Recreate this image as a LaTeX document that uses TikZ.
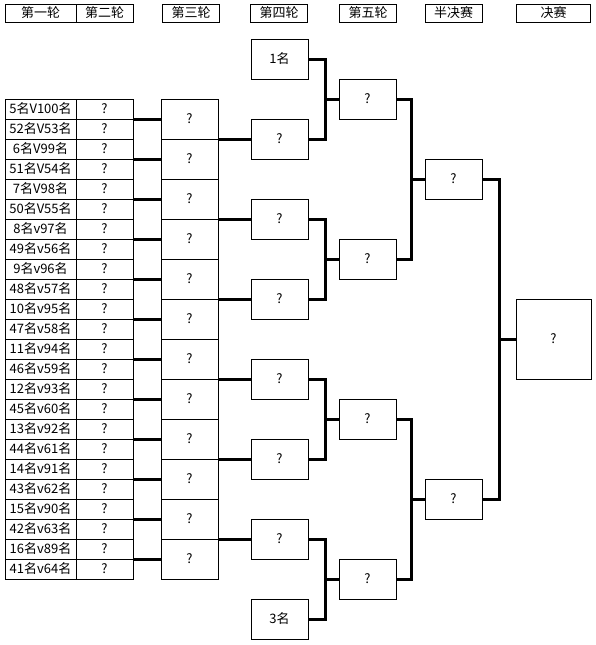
\documentclass[tikz,border=0pt]{standalone}
\usepackage{fontspec}
\newfontfamily\cjk{Noto Sans CJK SC}
\begin{document}
\begin{tikzpicture}[x=1pt,y=-1pt,
  box/.style={draw,line width=0.9pt,inner sep=0pt,font=\cjk\fontsize{13}{13}\selectfont},
  hdr/.style={box,minimum width=57pt,minimum height=18pt},
  cellA/.style={box,minimum width=71pt,minimum height=20pt},
  cellB/.style={box,minimum width=57pt,minimum height=20pt},
  rthree/.style={box,minimum width=57pt,minimum height=40pt},
  rfour/.style={box,minimum width=57pt,minimum height=40pt},
  fin/.style={box,minimum width=75pt,minimum height=80pt},
  link/.style={line width=3pt}]
\useasboundingbox (0,0) rectangle (595,645);
% headers
\node[hdr,minimum width=71pt] (h1) at (40.5,13) {第一轮};
\node[hdr] (h2) at (104.5,13) {第二轮};
\node[hdr] (h3) at (191,13) {第三轮};
\node[hdr] (h4) at (279,13) {第四轮};
\node[hdr] (h5) at (368,13) {第五轮};
\node[hdr] (h6) at (453.5,13) {半决赛};
\node[hdr,minimum width=74pt] (h7) at (553.5,13) {决赛};
% round 1 and 2
\foreach \t [count=\i from 0] in {5名V100名,52名V53名,6名V99名,51名V54名,7名V98名,50名V55名,8名v97名,49名v56名,9名v96名,48名v57名,10名v95名,47名v58名,11名v94名,46名v59名,12名v93名,45名v60名,13名v92名,44名v61名,14名v91名,43名v62名,15名v90名,42名v63名,16名v89名,41名v64名}{
  \node[cellA] (a\i) at (40.5,109+20*\i) {\t};
  \node[cellB] (b\i) at (104.5,109+20*\i) {?};
}
% round 3
\foreach \k in {0,...,11}{
  \node[rthree] (c\k) at (189.5,119+40*\k) {?};
  \pgfmathtruncatemacro{\lo}{2*\k}
  \draw[link] (c\k.west -| b\lo.east) -- (c\k.west);
}
% round 4
\node[rfour] (d0) at (279.5,59) {1名};
\foreach \k in {1,...,6}{
  \node[rfour] (d\k) at (279.5,59+80*\k) {?};
}
\node[rfour] (d7) at (279.5,619) {3名};
\foreach \k in {1,...,6}{
  \pgfmathtruncatemacro{\lo}{2*\k-2}
  \draw[link] (d\k.west -| c\lo.east) -- (d\k.west);
}
% round 5
\foreach \k in {0,...,3}{
  \node[rfour] (e\k) at (367.5,99+160*\k) {?};
  \pgfmathtruncatemacro{\lo}{2*\k}
  \pgfmathtruncatemacro{\hi}{2*\k+1}
  \draw[link] (d\lo.east) -- ++(17,0) |- (e\k.west);
  \draw[link] (d\hi.east) -- ++(17,0) |- (e\k.west);
}
% semifinals
\foreach \k in {0,1}{
  \node[rfour] (f\k) at (453.5,179+320*\k) {?};
  \pgfmathtruncatemacro{\lo}{2*\k}
  \pgfmathtruncatemacro{\hi}{2*\k+1}
  \draw[link] (e\lo.east) -- ++(15,0) |- (f\k.west);
  \draw[link] (e\hi.east) -- ++(15,0) |- (f\k.west);
}
% final
\node[fin] (g) at (553.5,339) {?};
\draw[link] (f0.east) -- ++(17,0) |- (g.west);
\draw[link] (f1.east) -- ++(17,0) |- (g.west);
\end{tikzpicture}
\end{document}
